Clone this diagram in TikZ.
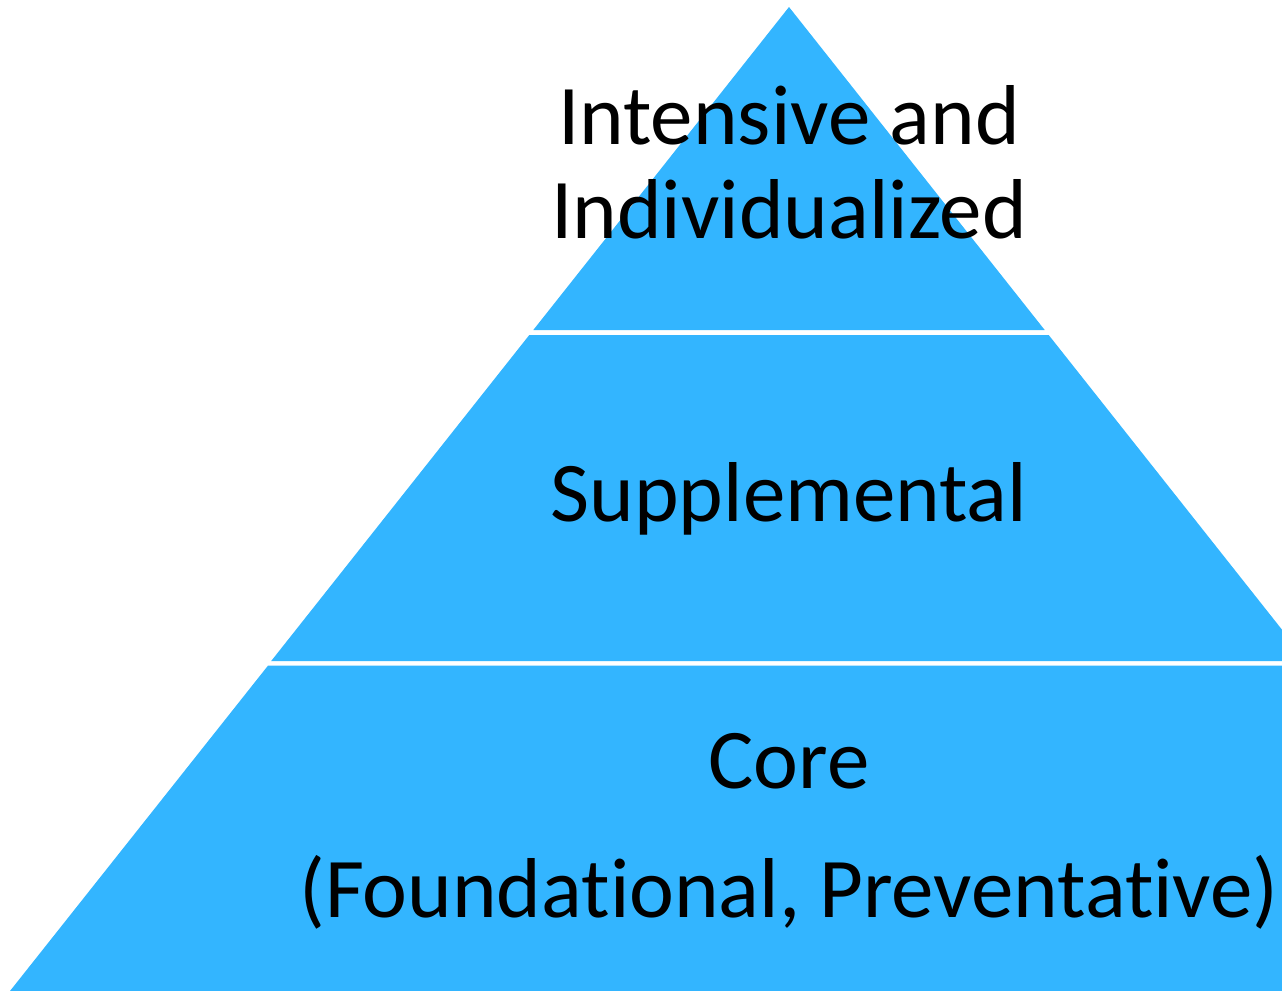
\documentclass[tikz,border=0pt]{standalone}
\usepackage{fontspec}
\setmainfont{Carlito}[Ligatures={NoCommon}]
\definecolor{tierblue}{RGB}{51,181,255}
\tikzset{
  tier/.style={fill=tierblue, draw=none},
  tierlabel/.style={anchor=base, inner sep=0pt, text=black,
    font=\fontsize{42.5}{50}\selectfont}
}
\begin{document}
\begin{tikzpicture}[x=0.5pt, y=-0.5pt]
  \useasboundingbox (0,0) rectangle (1282,991);
  \clip (0,0) rectangle (1282,991);
  % three stacked tiers of the pyramid, separated by thin white gaps
  \fill[tier] (789,7) -- (1044.7,330) -- (533.3,330) -- cycle;
  \fill[tier] (529.3,335) -- (1048.7,335) -- (1306.8,661) -- (271.2,661) -- cycle;
  \fill[tier] (268.1,665.5) -- (1309.9,665.5) -- (1568,991) -- (10,991) -- cycle;
  % tier labels
  \node[tierlabel] (top1) at (789,144) {Intensive and};
  \node[tierlabel] (top2) at (789,238) {Individualized};
  \node[tierlabel] (mid) at (789,521) {Supplemental};
  \node[tierlabel] (base1) at (789,788) {Core};
  \node[tierlabel] (base2) at (789,917) {(Foundational, Preventative)};
\end{tikzpicture}
\end{document}
